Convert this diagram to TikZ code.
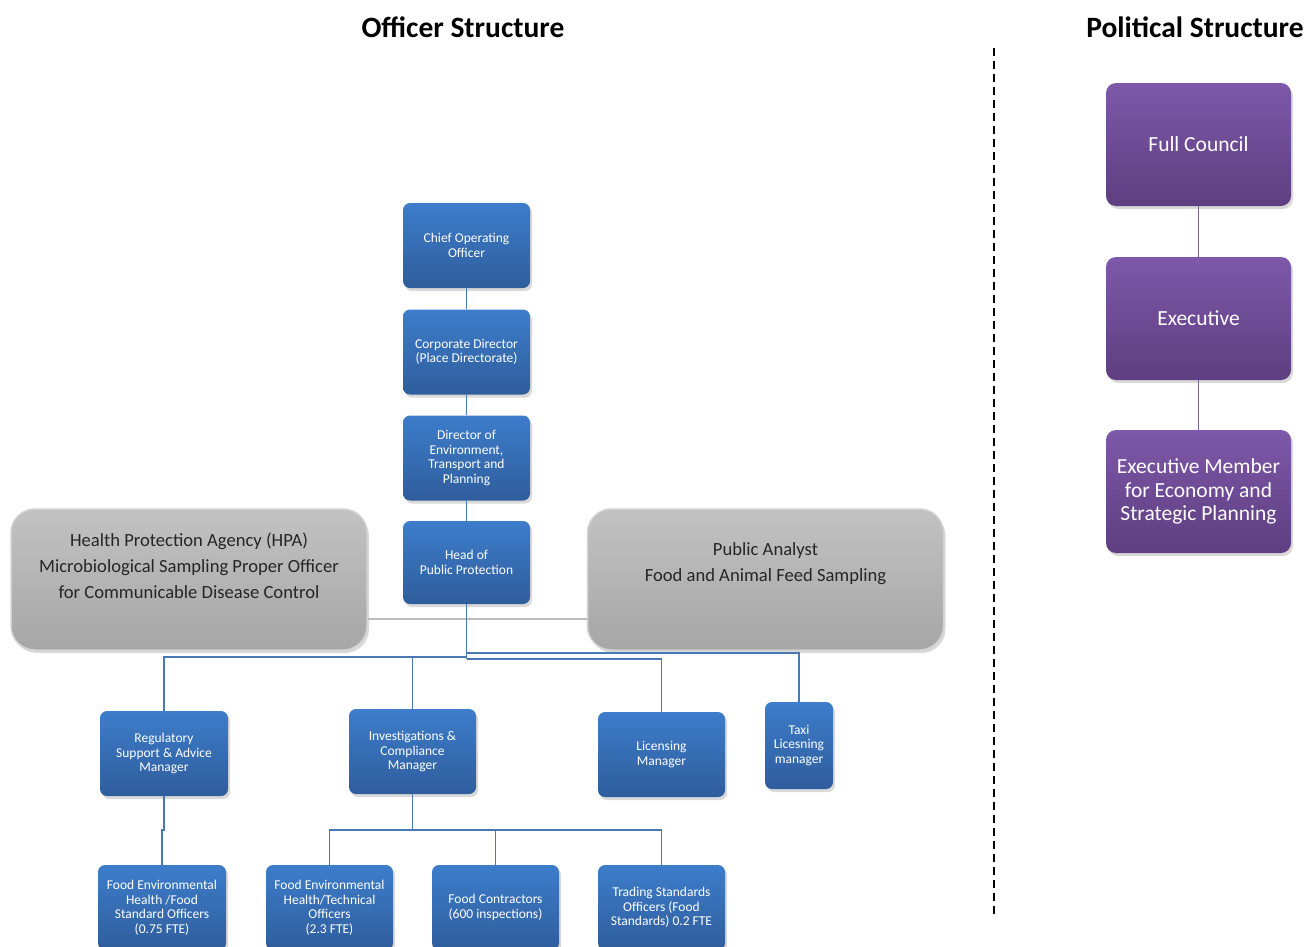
\documentclass[tikz,border=0pt]{standalone}
\usepackage{fontspec}
\setmainfont{Carlito}
\usetikzlibrary{shadows}

\definecolor{bluetop}{HTML}{3D7DCB}
\definecolor{bluebot}{HTML}{2F5D9C}
\definecolor{blueline}{HTML}{4A78B4}
\definecolor{purpletop}{HTML}{7E58A9}
\definecolor{purplebot}{HTML}{5E3E80}
\definecolor{purpleline}{HTML}{7D6592}
\definecolor{greytop}{HTML}{C2C2C2}
\definecolor{greybot}{HTML}{A6A6A6}
\definecolor{greyline}{HTML}{BDBDBD}

\tikzset{
  softshadow/.style={drop shadow={opacity=0.3, shadow xshift=2pt, shadow yshift=-3pt}},
  unitbox/.style={rectangle, rounded corners=7pt, minimum width=127pt, minimum height=85pt,
    top color=bluetop, bottom color=bluebot, text=white, align=center, inner sep=1pt,
    font=\fontsize{13.5}{14.5}\selectfont, softshadow},
  councilbox/.style={rectangle, rounded corners=10pt, minimum width=185pt, minimum height=123pt,
    top color=purpletop, bottom color=purplebot, text=white, align=center, inner sep=1pt,
    font=\fontsize{21.5}{23.5}\selectfont, softshadow},
  partnerbox/.style={rectangle, rounded corners=24pt, minimum width=356pt, minimum height=141pt,
    top color=greytop, bottom color=greybot, draw=greyline!70!white, line width=1.5pt, softshadow},
  partnertext/.style={align=center, text=black!85, font=\fontsize{18.6}{26}\selectfont},
  heading/.style={font=\bfseries\fontsize{29.5}{32}\selectfont},
  bluelink/.style={draw=blueline, line width=1.8pt},
  purplelink/.style={draw=purpleline, line width=1.5pt},
  greylink/.style={draw=greyline, line width=1.8pt}
}

\begin{document}
\begin{tikzpicture}[x=1pt, y=-1pt]
            \useasboundingbox (0,0) rectangle (1304,946);

            % headings and divider
            \node[heading] (officertitle) at (463,27) {Officer Structure};
            \node[heading] (politicaltitle) at (1195,27) {Political Structure};
            \coordinate (d1) at (994,48);
            \coordinate (d2) at (994,918);
            \draw[line width=2.2pt, dash pattern=on 8pt off 5pt] (d1) -- (d2);

            % officer chain
            \node[unitbox] (coo) at (466.5,245.5) {Chief Operating\\Officer};
            \node[unitbox] (corpdir) at (466.5,352) {Corporate Director\\(Place Directorate)};
            \node[unitbox] (envdir) at (466.5,458) {Director of\\Environment,\\Transport and\\Planning};
            \node[unitbox, minimum height=83pt] (head) at (466.5,562.5) {Head of\\Public Protection};

            % partner bodies
            \node[partnerbox] (hpa) at (189,579.5) {};
            \node[partnertext] (hpatext) at (189,566) {Health Protection Agency (HPA)\\Microbiological Sampling Proper Officer\\for Communicable Disease Control};
            \node[partnerbox] (analyst) at (765.5,579.5) {};
            \node[partnertext] (analysttext) at (765.5,564) {Public Analyst\\Food and Animal Feed Sampling};

            % managers
            \node[unitbox, minimum width=128pt] (regmgr) at (164,753.5) {Regulatory\\Support \& Advice\\Manager};
            \node[unitbox] (invmgr) at (412.5,751.5) {Investigations \&\\Compliance\\Manager};
            \node[unitbox] (licmgr) at (661.5,754.5) {Licensing\\Manager};
            \node[unitbox, minimum width=68pt, minimum height=87pt] (taximgr) at (799,745.5) {Taxi\\Licesning\\manager};

            % officers
            \node[unitbox, minimum width=128pt] (fehfood) at (162,907.5) {Food Environmental\\Health /Food\\Standard Officers\\(0.75 FTE)};
            \node[unitbox] (fehtech) at (329.5,907.5) {Food Environmental\\Health/Technical\\Officers\\(2.3 FTE)};
            \node[unitbox] (contractors) at (495.5,907.5) {Food Contractors\\(600 inspections)};
            \node[unitbox] (tso) at (661.5,907.5) {Trading Standards\\Officers (Food\\Standards) 0.2 FTE};

            % political chain
            \node[councilbox] (council) at (1198.5,144.5) {Full Council};
            \node[councilbox] (executive) at (1198.5,318.5) {Executive};
            \node[councilbox] (member) at (1198.5,491.5) {Executive Member\\for Economy and\\Strategic Planning};

            % officer links
            \draw[bluelink] (coo) -- (corpdir);
            \draw[bluelink] (corpdir) -- (envdir);
            \draw[bluelink] (envdir) -- (head);

            \coordinate (g1) at (0,619);
            \draw[greylink] (hpa.east |- g1) -- (analyst.west |- g1);

            \coordinate (j1) at (466.5,657);
            \coordinate (j2) at (466.5,659);
            \coordinate (j3) at (466.5,653);
            \draw[bluelink] (head.south) -- (j2);
            \draw[bluelink] (j1) -| (regmgr.north);
            \draw[bluelink] (j1) -| (invmgr.north);
            \draw[bluelink] (j2) -| (licmgr.north);
            \draw[bluelink] (j3) -| (taximgr.north);

            \coordinate (j4) at (412.5,830);
            \draw[bluelink] (invmgr.south) -- (j4);
            \draw[bluelink] (j4) -| (fehtech.north);
            \draw[bluelink] (j4) -| (contractors.north);
            \draw[bluelink] (j4) -| (tso.north);
            \draw[bluelink] (regmgr.south) -- (regmgr.south |- j4) -| (fehfood.north);

            % political links
            \draw[purplelink] (council) -- (executive);
            \draw[purplelink] (executive) -- (member);

            \end{tikzpicture}
\end{document}
